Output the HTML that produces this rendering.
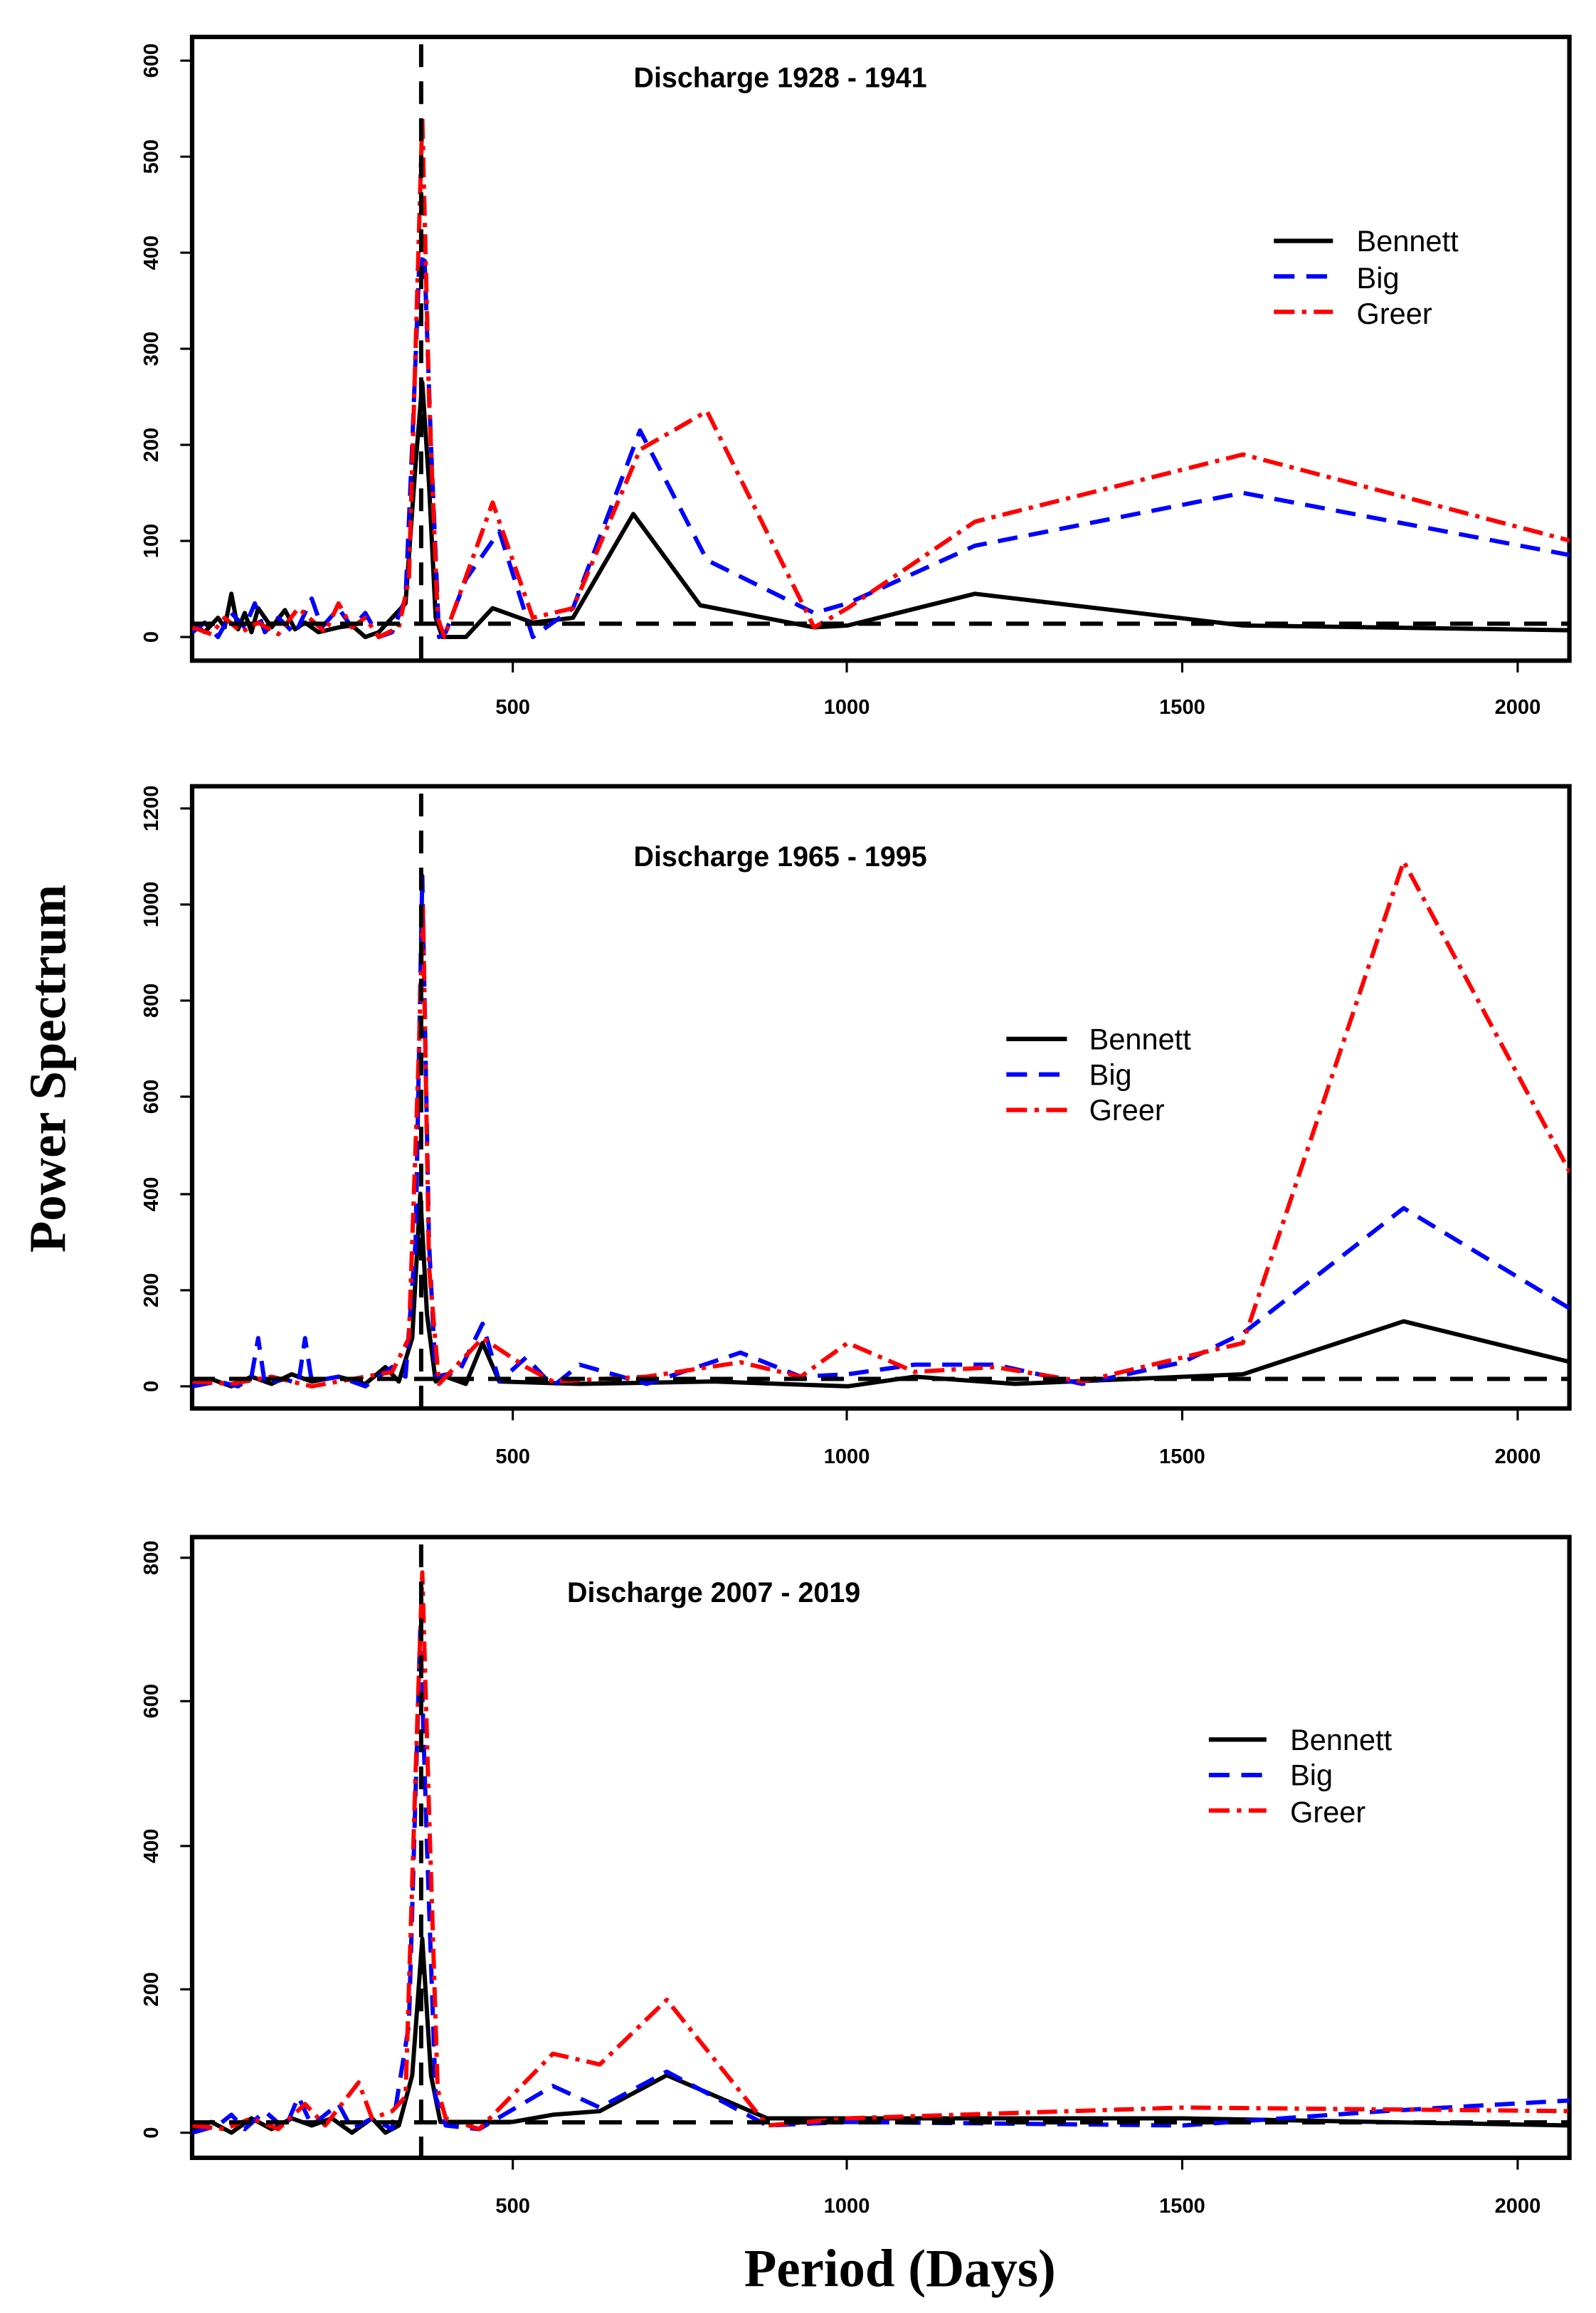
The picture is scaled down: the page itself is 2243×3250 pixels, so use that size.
<!DOCTYPE html>
<html><head><meta charset="utf-8"><style>
html,body{margin:0;padding:0;background:#fff}
svg{display:block}
text{font-family:"Liberation Sans",Arial,sans-serif}
.t{font-weight:bold;font-size:19px}
.tk{font-size:14px;font-weight:bold}
.lg{font-size:20px}
</style></head><body>
<svg width="2243" height="3250" viewBox="0 0 1080 1565" preserveAspectRatio="none" xmlns="http://www.w3.org/2000/svg">
<defs>
<style>
.s{fill:none;vector-effect:non-scaling-stroke;stroke-linejoin:round}
.bk{stroke:#000;stroke-width:6}
.bl{stroke:#0000ff;stroke-width:6;stroke-dasharray:28 16}
.rd{stroke:#ff0000;stroke-width:6;stroke-dasharray:28 10 6 10}
.ref{stroke:#000;stroke-width:6;stroke-dasharray:32 20}
</style>
</defs>

<!-- Panel 1 -->
<rect x="130" y="25" width="932" height="422" fill="none" stroke="#000" stroke-width="3"/>
<g stroke="#000" stroke-width="1.5">
<line x1="122" y1="431" x2="130" y2="431"/><line x1="122" y1="366" x2="130" y2="366"/><line x1="122" y1="301" x2="130" y2="301"/><line x1="122" y1="236" x2="130" y2="236"/><line x1="122" y1="171" x2="130" y2="171"/><line x1="122" y1="106" x2="130" y2="106"/><line x1="122" y1="41" x2="130" y2="41"/>
<line x1="347" y1="447" x2="347" y2="455"/><line x1="573" y1="447" x2="573" y2="455"/><line x1="800" y1="447" x2="800" y2="455"/><line x1="1027" y1="447" x2="1027" y2="455"/>
</g>
<g class="tk" text-anchor="middle">
<text transform="translate(107,431) rotate(-90)">0</text><text transform="translate(107,366) rotate(-90)">100</text><text transform="translate(107,301) rotate(-90)">200</text><text transform="translate(107,236) rotate(-90)">300</text><text transform="translate(107,171) rotate(-90)">400</text><text transform="translate(107,106) rotate(-90)">500</text><text transform="translate(107,41) rotate(-90)">600</text>
<text x="347" y="483">500</text><text x="573" y="483">1000</text><text x="800" y="483">1500</text><text x="1027" y="483">2000</text>
</g>
<text class="t" x="528" y="59" text-anchor="middle">Discharge 1928 - 1941</text>
<svg x="130" y="25" width="932" height="422" overflow="hidden">
<g transform="translate(-9.7,406) scale(0.4533,-0.65)">
<polyline class="s bk" points="22,15 40,5 60,20 70,10 80,45 90,8 100,25 110,5 120,30 140,10 160,28 175,8 190,15 210,5 240,10 260,12 280,0 300,5 320,20 340,35 355,180 365,265 375,160 385,20 395,0 430,0 470,30 530,15 590,20 680,128 780,33 950,10 1000,12 1190,45 1590,12 2080,7"/>
<polyline class="s bl" points="22,5 40,15 60,0 80,25 100,10 115,35 130,5 150,20 175,3 200,40 215,10 240,30 260,10 280,25 300,0 320,5 340,40 350,200 360,380 368,400 378,200 390,0 400,5 430,60 480,110 530,0 590,30 690,215 790,80 950,25 1000,35 1190,95 1590,150 2080,85"/>
<polyline class="s rd" points="22,10 50,3 70,20 95,5 120,15 150,3 180,30 220,5 240,35 260,10 280,20 300,0 330,10 345,60 355,300 365,540 375,250 388,20 398,0 470,140 530,20 590,30 690,195 790,235 950,10 1000,30 1190,120 1590,190 2080,100"/>
</g>
</svg>
<line class="s ref" x1="130" y1="422" x2="1062" y2="422"/>
<line class="s ref" x1="285" y1="30" x2="285" y2="447"/>
<g class="lg">
<line x1="862" y1="163" x2="902" y2="163" stroke="#000" stroke-width="3"/><text x="918" y="170">Bennett</text>
<line x1="862" y1="187" x2="902" y2="187" stroke="#00f" stroke-width="3" stroke-dasharray="14 8"/><text x="918" y="195">Big</text>
<line x1="862" y1="211" x2="902" y2="211" stroke="#f00" stroke-width="3" stroke-dasharray="14 5 3 5"/><text x="918" y="219">Greer</text>
</g>

<!-- Panel 2 -->
<rect x="130" y="532" width="932" height="421" fill="none" stroke="#000" stroke-width="3"/>
<g stroke="#000" stroke-width="1.5">
<line x1="122" y1="938" x2="130" y2="938"/><line x1="122" y1="873" x2="130" y2="873"/><line x1="122" y1="808" x2="130" y2="808"/><line x1="122" y1="742" x2="130" y2="742"/><line x1="122" y1="677" x2="130" y2="677"/><line x1="122" y1="612" x2="130" y2="612"/><line x1="122" y1="547" x2="130" y2="547"/>
<line x1="347" y1="953" x2="347" y2="961"/><line x1="573" y1="953" x2="573" y2="961"/><line x1="800" y1="953" x2="800" y2="961"/><line x1="1027" y1="953" x2="1027" y2="961"/>
</g>
<g class="tk" text-anchor="middle">
<text transform="translate(107,938) rotate(-90)">0</text><text transform="translate(107,873) rotate(-90)">200</text><text transform="translate(107,808) rotate(-90)">400</text><text transform="translate(107,742) rotate(-90)">600</text><text transform="translate(107,677) rotate(-90)">800</text><text transform="translate(107,612) rotate(-90)">1000</text><text transform="translate(107,547) rotate(-90)">1200</text>
<text x="347" y="990">500</text><text x="573" y="990">1000</text><text x="800" y="990">1500</text><text x="1027" y="990">2000</text>
</g>
<text class="t" x="528" y="586" text-anchor="middle">Discharge 1965 - 1995</text>
<svg x="130" y="532" width="932" height="421" overflow="hidden">
<g transform="translate(-9.7,406) scale(0.4533,-0.3258)">
<polyline class="s bk" points="22,5 50,15 80,0 110,20 140,5 170,25 200,10 240,20 280,5 310,40 330,10 350,100 362,400 372,150 385,10 400,20 430,5 455,90 480,10 600,5 800,10 1000,0 1100,20 1250,5 1590,25 1830,135 2080,50"/>
<polyline class="s bl" points="22,0 60,10 90,0 110,20 120,100 130,5 160,15 180,5 190,100 200,10 240,20 280,0 320,40 340,20 355,300 365,1060 375,300 385,20 420,30 455,130 480,10 520,60 560,0 600,45 700,5 840,70 930,20 1000,25 1100,45 1220,45 1350,5 1500,50 1590,110 1830,370 2080,160"/>
<polyline class="s rd" points="22,10 80,5 140,20 200,0 260,15 320,30 345,100 360,700 366,1000 375,250 390,5 455,100 520,40 560,10 700,20 840,50 930,20 1000,90 1100,30 1220,40 1350,10 1590,90 1830,1090 2080,440"/>
</g>
</svg>
<line class="s ref" x1="130" y1="933" x2="1062" y2="933"/>
<line class="s ref" x1="285" y1="537" x2="285" y2="953"/>
<g class="lg">
<line x1="681" y1="703" x2="722" y2="703" stroke="#000" stroke-width="3"/><text x="737" y="710">Bennett</text>
<line x1="681" y1="727" x2="722" y2="727" stroke="#00f" stroke-width="3" stroke-dasharray="14 8"/><text x="737" y="734">Big</text>
<line x1="681" y1="751" x2="722" y2="751" stroke="#f00" stroke-width="3" stroke-dasharray="14 5 3 5"/><text x="737" y="758">Greer</text>
</g>

<!-- Panel 3 -->
<rect x="130" y="1040" width="932" height="420" fill="none" stroke="#000" stroke-width="3"/>
<g stroke="#000" stroke-width="1.5">
<line x1="122" y1="1443" x2="130" y2="1443"/><line x1="122" y1="1346" x2="130" y2="1346"/><line x1="122" y1="1249" x2="130" y2="1249"/><line x1="122" y1="1151" x2="130" y2="1151"/><line x1="122" y1="1054" x2="130" y2="1054"/>
<line x1="347" y1="1460" x2="347" y2="1468"/><line x1="573" y1="1460" x2="573" y2="1468"/><line x1="800" y1="1460" x2="800" y2="1468"/><line x1="1027" y1="1460" x2="1027" y2="1468"/>
</g>
<g class="tk" text-anchor="middle">
<text transform="translate(107,1443) rotate(-90)">0</text><text transform="translate(107,1346) rotate(-90)">200</text><text transform="translate(107,1249) rotate(-90)">400</text><text transform="translate(107,1151) rotate(-90)">600</text><text transform="translate(107,1054) rotate(-90)">800</text>
<text x="347" y="1497">500</text><text x="573" y="1497">1000</text><text x="800" y="1497">1500</text><text x="1027" y="1497">2000</text>
</g>
<text class="t" x="483" y="1084" text-anchor="middle">Discharge 2007 - 2019</text>
<svg x="130" y="1040" width="932" height="420" overflow="hidden">
<g transform="translate(-9.7,403) scale(0.4533,-0.486)">
<polyline class="s bk" points="22,5 50,15 80,0 110,20 140,5 170,20 200,10 230,20 260,0 290,20 310,0 330,10 350,80 365,270 378,80 392,15 500,15 560,25 630,30 730,80 880,20 1000,20 1500,20 2080,10"/>
<polyline class="s bl" points="22,0 60,10 80,25 100,5 130,30 160,5 180,50 200,10 240,40 260,5 290,20 320,5 345,150 362,700 372,400 385,50 400,10 450,5 560,65 630,35 730,85 880,10 1000,15 1500,10 1800,30 2080,45"/>
<polyline class="s rd" points="22,10 70,5 110,20 150,5 190,40 220,10 270,70 290,20 320,30 340,50 355,500 365,780 375,450 388,60 400,20 450,5 560,110 630,95 730,185 880,10 1000,20 1500,35 2080,30"/>
</g>
</svg>
<line class="s ref" x1="130" y1="1436" x2="1062" y2="1436"/>
<line class="s ref" x1="285" y1="1045" x2="285" y2="1460"/>
<g class="lg">
<line x1="818" y1="1177" x2="857" y2="1177" stroke="#000" stroke-width="3"/><text x="873" y="1184">Bennett</text>
<line x1="818" y1="1201" x2="857" y2="1201" stroke="#00f" stroke-width="3" stroke-dasharray="14 8"/><text x="873" y="1208">Big</text>
<line x1="818" y1="1225" x2="857" y2="1225" stroke="#f00" stroke-width="3" stroke-dasharray="14 5 3 5"/><text x="873" y="1233">Greer</text>
</g>

<!-- axis titles -->
<text transform="translate(44,723) rotate(-90)" text-anchor="middle" style="font-family:'Liberation Serif',serif;font-weight:bold;font-size:35px">Power Spectrum</text>
<text x="609" y="1547" text-anchor="middle" style="font-family:'Liberation Serif',serif;font-weight:bold;font-size:36px">Period (Days)</text>
</svg>
</body></html>
